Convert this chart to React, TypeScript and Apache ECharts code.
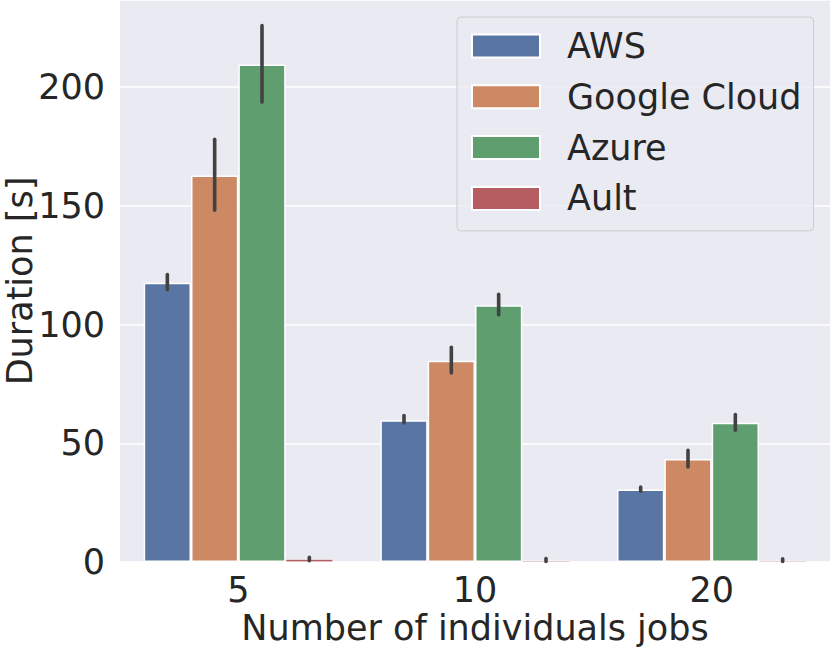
import React, { useEffect, useRef } from "react";
import * as echarts from "echarts";

const categories = ["5", "10", "20"];
const seriesNames = ["AWS", "Google Cloud", "Azure", "Ault"];
const colors = ["#5975a4", "#cc8963", "#5f9e6e", "#b55d60"];

const awsValues = [117.6, 59.7, 30.5];
const awsLow = [114.7, 58.6, 29.8];
const awsHigh = [121.1, 61.7, 31.6];

const googleValues = [162.8, 84.8, 43.4];
const googleLow = [148.2, 79.6, 40.0];
const googleHigh = [178.0, 90.4, 47.0];

const azureValues = [209.5, 108.1, 58.6];
const azureLow = [193.7, 104.1, 55.5];
const azureHigh = [225.9, 112.8, 62.1];

const aultValues = [1.2, 0.6, 0.5];
const aultLow = [0.5, 0.2, 0.2];
const aultHigh = [2.0, 1.5, 1.4];

const yTicks = { min: 0, max: 236.7, interval: 50 };

const values = [awsValues, googleValues, azureValues, aultValues];
const lows = [awsLow, googleLow, azureLow, aultLow];
const highs = [awsHigh, googleHigh, azureHigh, aultHigh];

const FONT = "DejaVu Sans";
const TEXT = "#262626";

export default function App() {
  const ref = useRef<HTMLDivElement>(null);

  useEffect(() => {
    document.body.style.margin = "0";
    if (!ref.current) return;
    const chart = echarts.init(ref.current, null, { renderer: "svg" });

    const barSeries = seriesNames.map((name, k) => ({
      name,
      type: "bar",
      data: values[k],
      barGap: "0%",
      barCategoryGap: "20%",
      itemStyle: {
        color: colors[k],
        borderColor: "#ffffff",
        borderWidth: k === 3 ? 0.6 : 1.5,
      },
      z: 2,
    }));

    const errSeries = seriesNames.map((name, k) => ({
      name: "err-" + name,
      type: "custom",
      z: 5,
      data: categories.map((_, i) => [i, lows[k][i], highs[k][i]]),
      encode: { x: 0, y: [1, 2] },
      renderItem: (params: any, api: any) => {
        const ci = api.value(0);
        const lo = api.coord([ci, api.value(1)]);
        const hi = api.coord([ci, api.value(2)]);
        const band = api.size([1, 0])[0];
        const off = (k - 1.5) * band * 0.2;
        return {
          type: "line",
          shape: { x1: lo[0] + off, y1: lo[1], x2: hi[0] + off, y2: hi[1] },
          style: { stroke: "#424242", lineWidth: 3.6, lineCap: "round" },
        };
      },
    }));

    chart.setOption({
      animation: false,
      textStyle: { fontFamily: FONT },
      grid: {
        left: 120,
        right: 0,
        top: 0,
        bottom: 88,
        show: true,
        backgroundColor: "#eaeaf2",
        borderWidth: 0,
        outerBoundsMode: "none",
        containLabel: false,
      },
      legend: {
        data: seriesNames,
        orient: "vertical",
        left: 457,
        top: 17,
        icon: "rect",
        itemWidth: 68,
        itemHeight: 23,
        itemGap: 10.8,
        padding: [9, 12, 12.5, 14],
        backgroundColor: "rgba(234,234,242,0.8)",
        borderColor: "#cccccc",
        borderWidth: 1,
        borderRadius: 4,
        textStyle: {
          fontFamily: FONT,
          fontSize: 35,
          color: TEXT,
          lineHeight: 40,
          padding: [0, 0, 0, 22],
        },
      },
      xAxis: {
        type: "category",
        data: categories,
        boundaryGap: true,
        axisLine: { show: false },
        axisTick: { show: false },
        splitLine: { show: false },
        axisLabel: { fontFamily: FONT, fontSize: 35, color: TEXT, margin: 10 },
        name: "Number of individuals jobs",
        nameLocation: "middle",
        nameGap: 48,
        nameMoveOverlap: false,
        nameTextStyle: { fontFamily: FONT, fontSize: 35, color: TEXT },
      },
      yAxis: {
        type: "value",
        min: yTicks.min,
        max: yTicks.max,
        interval: yTicks.interval,
        axisLine: { show: false },
        axisTick: { show: false },
        splitLine: { show: true, lineStyle: { color: "#ffffff", width: 1.6 } },
        axisLabel: {
          fontFamily: FONT,
          fontSize: 35,
          color: TEXT,
          margin: 15,
          showMaxLabel: false,
        },
        name: "Duration [s]",
        nameLocation: "middle",
        nameRotate: 90,
        nameGap: 85,
        nameMoveOverlap: false,
        nameTextStyle: { fontFamily: FONT, fontSize: 35, color: TEXT, lineHeight: 30 },
      },
      series: [...barSeries, ...errSeries],
    });

    return () => chart.dispose();
  }, []);

  return <div ref={ref} style={{ width: 830, height: 650 }} />;
}
